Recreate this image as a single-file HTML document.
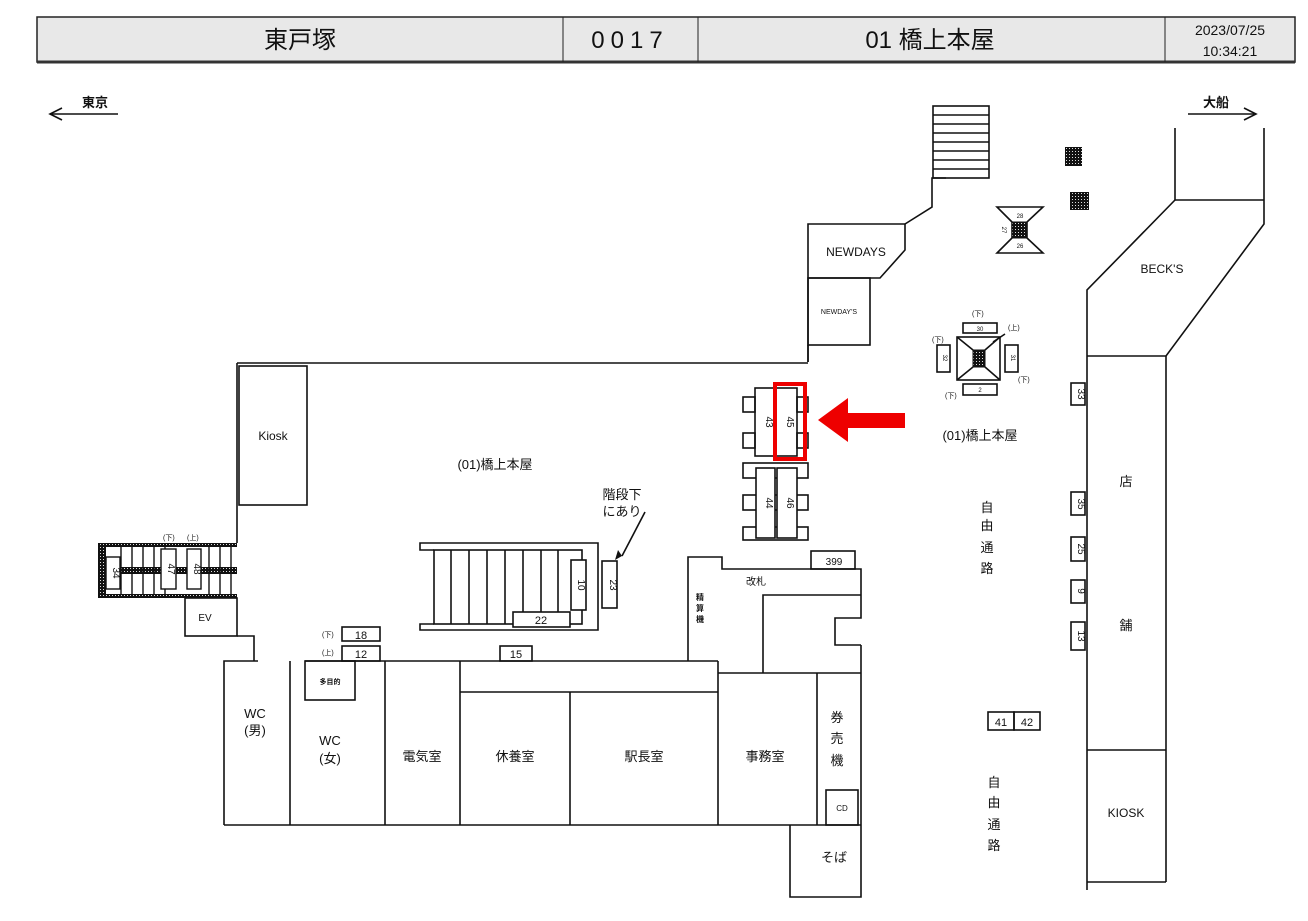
<!DOCTYPE html>
<html><head><meta charset="utf-8"><style>
html,body{margin:0;padding:0;background:#fff;}
svg{display:block;}
text{font-family:"Liberation Sans","Noto Sans CJK JP",sans-serif;fill:#111;}
</style></head><body>
<svg width="1308" height="921" viewBox="0 0 1308 921" xmlns="http://www.w3.org/2000/svg">
<defs>
<pattern id="dots" width="3" height="3" patternUnits="userSpaceOnUse"><rect width="3" height="3" fill="#111"/><rect x="1" y="1" width="1" height="1" fill="#ddd"/></pattern>
</defs>
<!-- header -->
<rect x="37" y="17" width="1258" height="45" fill="#e8e8e8" stroke="#222" stroke-width="1.5"/>
<line x1="37" y1="62" x2="1295" y2="62" stroke="#333" stroke-width="3"/>
<line x1="563" y1="17" x2="563" y2="62" stroke="#222"/>
<line x1="698" y1="17" x2="698" y2="62" stroke="#222"/>
<line x1="1165" y1="17" x2="1165" y2="62" stroke="#222"/>
<text x="300" y="48" font-size="24" text-anchor="middle">東戸塚</text>
<text x="630" y="48" font-size="24" text-anchor="middle" letter-spacing="6">0017</text>
<text x="930" y="48" font-size="24" text-anchor="middle">01 橋上本屋</text>
<text x="1230" y="35" font-size="14" text-anchor="middle">2023/07/25</text>
<text x="1230" y="56" font-size="14" text-anchor="middle">10:34:21</text>

<g stroke="#111" stroke-width="1.6" fill="none">
<!-- direction arrows -->
<line x1="50" y1="114" x2="118" y2="114"/><polyline points="62,108 50,114 62,120"/>
<line x1="1188" y1="114" x2="1256" y2="114"/><polyline points="1244,108 1256,114 1244,120"/>
<!-- top stairs -->
<rect x="933" y="106" width="56" height="72"/>
<line x1="933" y1="115" x2="989" y2="115"/><line x1="933" y1="124" x2="989" y2="124"/><line x1="933" y1="133" x2="989" y2="133"/><line x1="933" y1="142" x2="989" y2="142"/><line x1="933" y1="151" x2="989" y2="151"/><line x1="933" y1="160" x2="989" y2="160"/><line x1="933" y1="169" x2="989" y2="169"/>
<polyline points="946,178 932,178 932,207 905,224"/>
<!-- NEWDAYS -->
<polyline points="808,362 808,224 905,224 905,250 880,278 808,278"/>
<rect x="808" y="278" width="62" height="67"/>
<!-- right side -->
<polyline points="1175,128 1175,200 1264,200"/>
<polyline points="1264,128 1264,224 1166,356 1087,356"/>
<polyline points="1175,200 1087,290 1087,890"/>
<line x1="1166" y1="356" x2="1166" y2="882"/>
<line x1="1087" y1="750" x2="1166" y2="750"/>
<line x1="1087" y1="882" x2="1166" y2="882"/>
<!-- main top -->
<line x1="237" y1="363" x2="808" y2="363"/>
<line x1="237" y1="363" x2="237" y2="543"/>
<rect x="239" y="366" width="68" height="139"/>
<!-- left escalator -->
<rect x="185" y="598" width="52" height="38"/>
<polyline points="237,636 254,636 254,661"/>
<!-- rooms -->
<polyline points="224,825 224,661 258,661"/>
<line x1="290" y1="661" x2="290" y2="825"/>
<line x1="305" y1="661" x2="718" y2="661"/>
<rect x="305" y="661" width="50" height="39"/>
<line x1="385" y1="661" x2="385" y2="825"/>
<line x1="460" y1="661" x2="460" y2="825"/>
<line x1="460" y1="692" x2="718" y2="692"/>
<line x1="570" y1="692" x2="570" y2="825"/>
<line x1="718" y1="661" x2="718" y2="825"/>
<line x1="718" y1="673" x2="861" y2="673"/>
<line x1="817" y1="673" x2="817" y2="825"/>
<line x1="224" y1="825" x2="861" y2="825"/>
<rect x="826" y="790" width="32" height="35"/>
<polyline points="790,825 790,897 861,897 861,825"/>
<line x1="861" y1="645" x2="861" y2="825"/>
<!-- kaisatsu -->
<polyline points="688,661 688,557 722,557 722,569 861,569 861,618 835,618 835,645 861,645"/>
<polyline points="763,673 763,595 861,595"/>
<rect x="811" y="551" width="44" height="18"/>
<!-- center stairs -->
<polyline points="434,550 420,550 420,543 598,543 598,630 420,630 420,624 434,624"/>
<rect x="434" y="550" width="148" height="74"/>
<line x1="451" y1="550" x2="451" y2="624"/><line x1="469" y1="550" x2="469" y2="624"/><line x1="487" y1="550" x2="487" y2="624"/><line x1="505" y1="550" x2="505" y2="624"/><line x1="523" y1="550" x2="523" y2="624"/><line x1="541" y1="550" x2="541" y2="624"/><line x1="558" y1="550" x2="558" y2="624"/>
<rect x="571" y="560" width="15" height="50" fill="#fff"/>
<rect x="513" y="612" width="57" height="15" fill="#fff"/>
<rect x="602" y="561" width="15" height="47"/>
<line x1="645" y1="512" x2="622" y2="556"/>
<rect x="342" y="627" width="38" height="14"/>
<rect x="342" y="646" width="38" height="15"/>
<rect x="500" y="646" width="32" height="15"/>
<!-- tables -->
<line x1="808" y1="345" x2="808" y2="362"/>
<rect x="755" y="388" width="21" height="68"/><rect x="776" y="388" width="21" height="68"/>
<rect x="743" y="397" width="12" height="15"/><rect x="743" y="433" width="12" height="15"/>
<rect x="797" y="397" width="11" height="15"/><rect x="797" y="433" width="11" height="15"/>
<rect x="743" y="463" width="65" height="15"/><rect x="743" y="495" width="65" height="15"/><rect x="743" y="527" width="65" height="13"/>
<rect x="756" y="468" width="19" height="70" fill="#fff"/><rect x="777" y="468" width="20" height="70" fill="#fff"/>
<!-- small boxes right -->
<rect x="1071" y="383" width="14" height="22"/>
<rect x="1071" y="492" width="14" height="23"/>
<rect x="1071" y="537" width="14" height="24"/>
<rect x="1071" y="580" width="14" height="23"/>
<rect x="1071" y="622" width="14" height="28"/>
<rect x="988" y="712" width="26" height="18"/><rect x="1014" y="712" width="26" height="18"/>
<!-- escalator square -->
<rect x="957" y="337" width="43" height="43"/>
<line x1="957" y1="337" x2="973" y2="350"/><line x1="1000" y1="337" x2="985" y2="350"/><line x1="957" y1="380" x2="973" y2="367"/><line x1="1000" y1="380" x2="985" y2="367"/>
<rect x="963" y="323" width="34" height="10"/><rect x="963" y="384" width="34" height="11"/>
<rect x="937" y="345" width="13" height="27"/><rect x="1005" y="345" width="13" height="27"/>
<line x1="1005" y1="334" x2="993" y2="342"/>
<!-- hourglass -->
<polygon points="997,207 1043,207 1027,222 1027,238 1043,253 997,253 1012,238 1012,222"/>
</g>
<rect x="973" y="350" width="12" height="17" fill="url(#dots)" stroke="#111"/>
<rect x="1012" y="222" width="15" height="16" fill="url(#dots)" stroke="#111"/>
<rect x="1065" y="147" width="17" height="19" fill="url(#dots)"/>
<rect x="1070" y="192" width="19" height="18" fill="url(#dots)"/>
<!-- left escalator hatched -->
<rect x="98" y="543" width="139" height="4" fill="url(#dots)"/>
<rect x="98" y="594" width="139" height="4" fill="url(#dots)"/>
<rect x="98" y="543" width="8" height="55" fill="url(#dots)"/>
<rect x="106" y="567" width="131" height="7" fill="url(#dots)"/>
<g stroke="#111" stroke-width="1.4" fill="#fff">
<line x1="121" y1="547" x2="121" y2="594"/><line x1="132" y1="547" x2="132" y2="594"/><line x1="143" y1="547" x2="143" y2="594"/><line x1="154" y1="547" x2="154" y2="594"/><line x1="165" y1="547" x2="165" y2="594"/><line x1="209" y1="547" x2="209" y2="594"/><line x1="220" y1="547" x2="220" y2="594"/><line x1="231" y1="547" x2="231" y2="594"/>
<rect x="106" y="557" width="14" height="32"/>
<rect x="161" y="549" width="15" height="40"/>
<rect x="187" y="549" width="14" height="40"/>
</g>
<!-- red -->
<rect x="775" y="384" width="30" height="75" fill="none" stroke="#e00" stroke-width="4"/>
<polygon points="818,420 848,398 848,413 905,413 905,428 848,428 848,442" fill="#e00"/>
<polygon points="622,556 615,560 618,550" fill="#111"/>

<!-- labels -->
<text x="95" y="107" font-size="13" text-anchor="middle" font-weight="bold">東京</text>
<text x="1216" y="107" font-size="13" text-anchor="middle" font-weight="bold">大船</text>
<text x="856" y="256" font-size="12" text-anchor="middle">NEWDAYS</text>
<text x="839" y="314" font-size="7" text-anchor="middle">NEWDAY'S</text>
<text x="1162" y="273" font-size="12" text-anchor="middle">BECK'S</text>
<text x="273" y="440" font-size="12" text-anchor="middle">Kiosk</text>
<text x="495" y="469" font-size="13" text-anchor="middle">(01)橋上本屋</text>
<text x="980" y="440" font-size="13" text-anchor="middle">(01)橋上本屋</text>
<text x="622" y="499" font-size="13" text-anchor="middle">階段下</text>
<text x="622" y="516" font-size="13" text-anchor="middle">にあり</text>
<g font-size="13" text-anchor="middle"><text x="987" y="512">自</text><text x="987" y="530">由</text><text x="987" y="552">通</text><text x="987" y="573">路</text>
<text x="994" y="787">自</text><text x="994" y="807">由</text><text x="994" y="829">通</text><text x="994" y="850">路</text>
<text x="1126" y="486">店</text><text x="1126" y="630">舗</text></g>
<text x="1126" y="817" font-size="12" text-anchor="middle">KIOSK</text>
<text x="205" y="621" font-size="10" text-anchor="middle">EV</text>
<text x="834" y="565" font-size="10" text-anchor="middle">399</text>
<text x="756" y="585" font-size="10" text-anchor="middle">改札</text>
<g font-size="8" text-anchor="middle" font-weight="bold"><text x="700" y="600">精</text><text x="700" y="611">算</text><text x="700" y="622">機</text></g>
<text x="330" y="684" font-size="7" text-anchor="middle" font-weight="bold">多目的</text>
<text x="255" y="718" font-size="13" text-anchor="middle">WC</text><text x="255" y="735" font-size="13" text-anchor="middle">(男)</text>
<text x="330" y="745" font-size="13" text-anchor="middle">WC</text><text x="330" y="763" font-size="13" text-anchor="middle">(女)</text>
<text x="422" y="761" font-size="13" text-anchor="middle">電気室</text>
<text x="515" y="761" font-size="13" text-anchor="middle">休養室</text>
<text x="644" y="761" font-size="13" text-anchor="middle">駅長室</text>
<text x="765" y="761" font-size="13" text-anchor="middle">事務室</text>
<g font-size="13" text-anchor="middle"><text x="837" y="722">券</text><text x="837" y="743">売</text><text x="837" y="765">機</text></g>
<text x="842" y="811" font-size="8" text-anchor="middle">CD</text>
<text x="834" y="862" font-size="13" text-anchor="middle">そば</text>
<g font-size="11" text-anchor="middle"><text x="361" y="639">18</text><text x="361" y="658">12</text><text x="516" y="658">15</text><text x="541" y="624">22</text>
<text x="1001" y="726">41</text><text x="1027" y="726">42</text></g>
<g font-size="7" fill="#333"><text x="322" y="637">(下)</text><text x="322" y="655">(上)</text>
<text x="163" y="540">(下)</text><text x="187" y="540">(上)</text>
<text x="972" y="316">(下)</text><text x="1008" y="330">(上)</text><text x="932" y="342">(下)</text><text x="1018" y="382">(下)</text><text x="945" y="398">(下)</text></g>
<g font-size="6" text-anchor="middle"><text x="980" y="331">30</text><text x="980" y="392">2</text><text x="1020" y="218">28</text><text x="1020" y="248">26</text></g>
<!-- rotated labels -->
<g font-size="10" text-anchor="middle">
<text transform="translate(113,573) rotate(90)">34</text>
<text transform="translate(168,569) rotate(90)">47</text>
<text transform="translate(194,569) rotate(90)">48</text>
<text transform="translate(578,585) rotate(90)">10</text>
<text transform="translate(610,585) rotate(90)">23</text>
<text transform="translate(766,422) rotate(90)">43</text>
<text transform="translate(787,422) rotate(90)">45</text>
<text transform="translate(766,503) rotate(90)">44</text>
<text transform="translate(787,503) rotate(90)">46</text>
<text transform="translate(1078,394) rotate(90)">33</text>
<text transform="translate(1078,504) rotate(90)">35</text>
<text transform="translate(1078,549) rotate(90)">25</text>
<text transform="translate(1078,591) rotate(90)">9</text>
<text transform="translate(1078,636) rotate(90)">13</text>
</g>
<g font-size="6" text-anchor="middle">
<text transform="translate(943,358) rotate(90)">32</text>
<text transform="translate(1011,358) rotate(90)">31</text>
<text transform="translate(1002,230) rotate(90)">27</text>
</g>
</svg>
</body></html>
